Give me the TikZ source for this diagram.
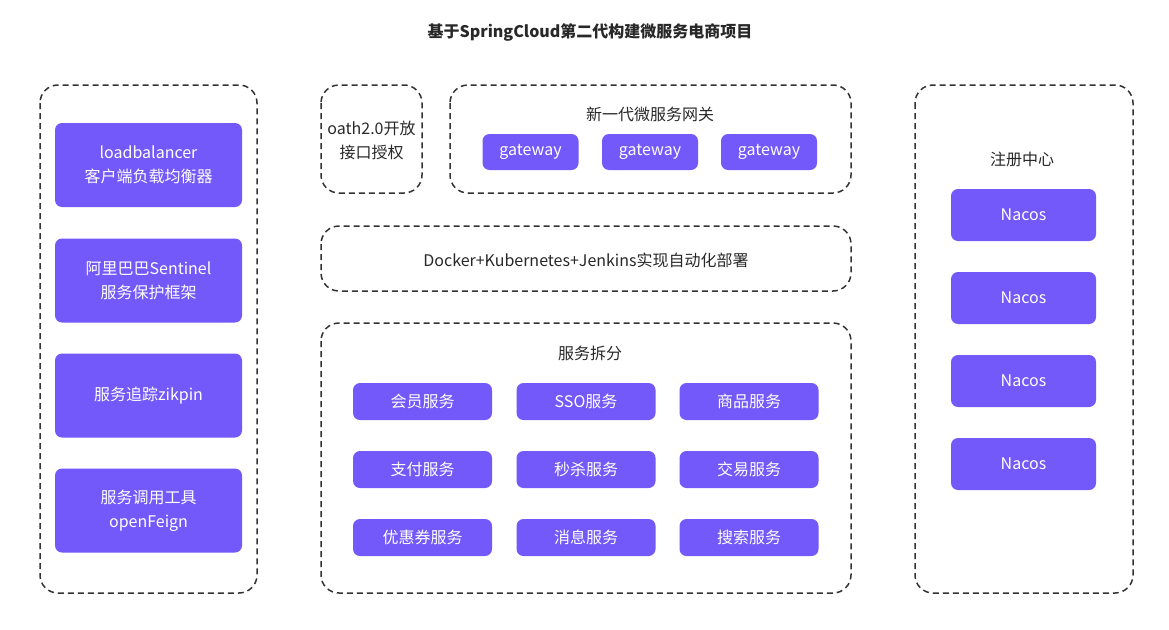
\documentclass[tikz,border=0pt]{standalone}
\usepackage{fontspec}
\setmainfont{Noto Sans CJK SC}
\definecolor{cardfill}{RGB}{115,88,250}
\definecolor{framegray}{RGB}{51,51,51}
\definecolor{labelgray}{RGB}{40,40,40}

\begin{document}
\begin{tikzpicture}[x=1pt,y=-1pt,
      frame/.style={draw=framegray, line width=1.5pt, dash pattern=on 6pt off 4pt, rounded corners=18pt},
      card/.style={fill=cardfill, rounded corners=7pt, text=white, align=center, inner sep=0pt,
                   font=\fontsize{16}{24}\selectfont},
      heading/.style={text=labelgray, align=center, font=\fontsize{16}{24}\selectfont}
    ]
    \useasboundingbox (0,0) rectangle (1169,629);
    \node[text=labelgray, font=\bfseries\fontsize{16}{18}\selectfont] (title) at (590,32) {基于SpringCloud第二代构建微服务电商项目};

    % frames
    \draw[frame] (40,85) rectangle (257,593);
    \draw[frame] (321,85) rectangle (422,193);
    \draw[frame] (450,85) rectangle (851,193);
    \draw[frame] (321,226) rectangle (851,291);
    \draw[frame] (321,323) rectangle (851,593);
    \draw[frame] (915,85) rectangle (1133,593);

    % left column
    \node[card, minimum width=187pt, minimum height=84pt] (lb) at (148.5,165) {loadbalancer\\客户端负载均衡器};
    \node[card, minimum width=187pt, minimum height=84pt] (sentinel) at (148.5,280.5) {阿里巴巴Sentinel\\服务保护框架};
    \node[card, minimum width=187pt, minimum height=84pt] (zipkin) at (148.5,395.5) {服务追踪zikpin};
    \node[card, minimum width=187pt, minimum height=84pt] (feign) at (148.5,510.5) {服务调用工具\\openFeign};

    % auth and gateway
    \node[heading] (oauth) at (371.5,140) {oath2.0开放\\接口授权};
    \node[heading] (gwtitle) at (650,114) {新一代微服务网关};
    \foreach \x [count=\i] in {530.5,650,769}
        \node[card, minimum width=96pt, minimum height=36pt] (gw\i) at (\x,152) {gateway};

    % deployment
    \node[heading] (deploy) at (586,260) {Docker+Kubernetes+Jenkins实现自动化部署};

    % services
    \node[heading] (svctitle) at (590,353) {服务拆分};
    \node[card, minimum width=139pt, minimum height=37pt] (member) at (422.5,401.5) {会员服务};
    \node[card, minimum width=139pt, minimum height=37pt] (sso) at (586,401.5) {SSO服务};
    \node[card, minimum width=139pt, minimum height=37pt] (goods) at (749,401.5) {商品服务};
    \node[card, minimum width=139pt, minimum height=37pt] (pay) at (422.5,469.5) {支付服务};
    \node[card, minimum width=139pt, minimum height=37pt] (seckill) at (586,469.5) {秒杀服务};
    \node[card, minimum width=139pt, minimum height=37pt] (trade) at (749,469.5) {交易服务};
    \node[card, minimum width=139pt, minimum height=37pt] (coupon) at (422.5,537.5) {优惠券服务};
    \node[card, minimum width=139pt, minimum height=37pt] (message) at (586,537.5) {消息服务};
    \node[card, minimum width=139pt, minimum height=37pt] (search) at (749,537.5) {搜索服务};

    % registry
    \node[heading] (regtitle) at (1022,159) {注册中心};
    \foreach \y [count=\i] in {215,298,381,464}
        \node[card, minimum width=145pt, minimum height=52pt] (nacos\i) at (1023.5,\y) {Nacos};
\end{tikzpicture}
\end{document}
